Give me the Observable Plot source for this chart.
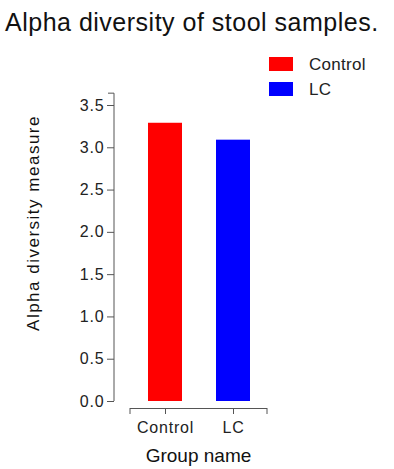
<!DOCTYPE html>
<html><head><meta charset="utf-8">
<script src="https://cdn.jsdelivr.net/npm/d3@7"></script>
<script src="https://cdn.jsdelivr.net/npm/@observablehq/plot@0.6"></script>
<style>
body{margin:0;background:#fff;font-family:"Liberation Sans",Arial,sans-serif;}
#wrap{position:relative;width:394px;height:469px;overflow:hidden;}
#title{height:50px;position:relative;}
#title span{position:absolute;left:5px;top:10px;font-size:25px;line-height:25px;letter-spacing:0.5px;color:#111;white-space:nowrap;}
#legend{position:absolute;left:0;top:0;z-index:2;}
.sw{position:absolute;width:24px;height:14px;}
.lt{position:absolute;font-size:17px;line-height:17px;letter-spacing:0.3px;color:#222;white-space:nowrap;}
#chart svg{display:block;}
</style></head>
<body>
<div id="wrap">
  <div id="title"><span></span></div>
  <div id="chart"></div>
  <div id="legend"></div>
</div>
<script>
const titleText = "Alpha diversity of stool samples.";
const groups = ["Control", "LC"];
const values = [3.29, 3.09];
const colors = ["#ff0000", "#0000ff"];
const yTicks = [0, 0.5, 1, 1.5, 2, 2.5, 3, 3.5];
const yAxisTop = 3.64;
const yLabel = "Alpha diversity measure";
const xLabel = "Group name";

document.querySelector("#title span").textContent = titleText;

const data = groups.map((g, i) => ({group: g, value: values[i]}));

const chart = Plot.plot({
  width: 394, height: 419,
  marginTop: 55, marginBottom: 68, marginLeft: 130, marginRight: 127,
  style: {fontFamily: '"Liberation Sans", Arial, sans-serif', background: "transparent", color: "#222"},
  x: {domain: groups, paddingInner: 0.5, paddingOuter: 0.25, label: null, axis: null},
  y: {domain: [0, 3.5], label: null, axis: null},
  color: {domain: groups, range: colors},
  marks: [
    Plot.barY(data, {x: "group", y: "value", fill: "group"}),
    Plot.axisY(yTicks, {anchor: "left", tickFormat: d3.format(".1f"), tickSize: 7, tickPadding: 3, dx: -16, fontSize: 16, stroke: "#555", fill: "#222", label: null}),
    Plot.axisX(groups, {anchor: "bottom", tickSize: 6, tickPadding: 7, dy: 7, fontSize: 16, stroke: "#555", fill: "#222", label: null}),
    Plot.ruleY([0], {dy: 7, stroke: "#555"})
  ]
});
document.getElementById("chart").appendChild(chart);

// axis lines & labels in R style
const ys = chart.scale("y");
const xs = chart.scale("x");
const svg = d3.select(chart);
const axisX = 130 - 16;
const g = svg.append("g").attr("stroke", "#555").attr("fill", "none");
g.append("line").attr("x1", axisX).attr("x2", axisX).attr("y1", ys.apply(0)).attr("y2", ys.apply(yAxisTop));
g.append("line").attr("x1", axisX - 6).attr("x2", axisX).attr("y1", ys.apply(yAxisTop)).attr("y2", ys.apply(yAxisTop));
const xr = xs.range;
const xLineY = ys.apply(0) + 7;
for (const xx of xr) {
  g.append("line").attr("x1", xx).attr("x2", xx).attr("y1", xLineY).attr("y2", xLineY + 6);
}
svg.selectAll("text").attr("letter-spacing", "0.8");
svg.append("text").text(yLabel)
  .attr("transform", "translate(39,173) rotate(-90)")
  .attr("text-anchor", "middle").attr("font-size", 17).attr("letter-spacing", "1.5").attr("fill", "#111");
svg.append("text").text(xLabel)
  .attr("x", (xr[0] + xr[1]) / 2).attr("y", 411.5)
  .attr("text-anchor", "middle").attr("font-size", 19).attr("fill", "#111");

// legend
const leg = document.getElementById("legend");
groups.forEach((gname, i) => {
  const sw = document.createElement("div");
  sw.className = "sw";
  sw.style.left = "269px";
  sw.style.top = (57 + i * 25) + "px";
  sw.style.background = colors[i];
  leg.appendChild(sw);
  const t = document.createElement("div");
  t.className = "lt";
  t.style.left = "309px";
  t.style.top = (55.6 + i * 25) + "px";
  t.textContent = gname;
  leg.appendChild(t);
});
</script>
</body></html>
